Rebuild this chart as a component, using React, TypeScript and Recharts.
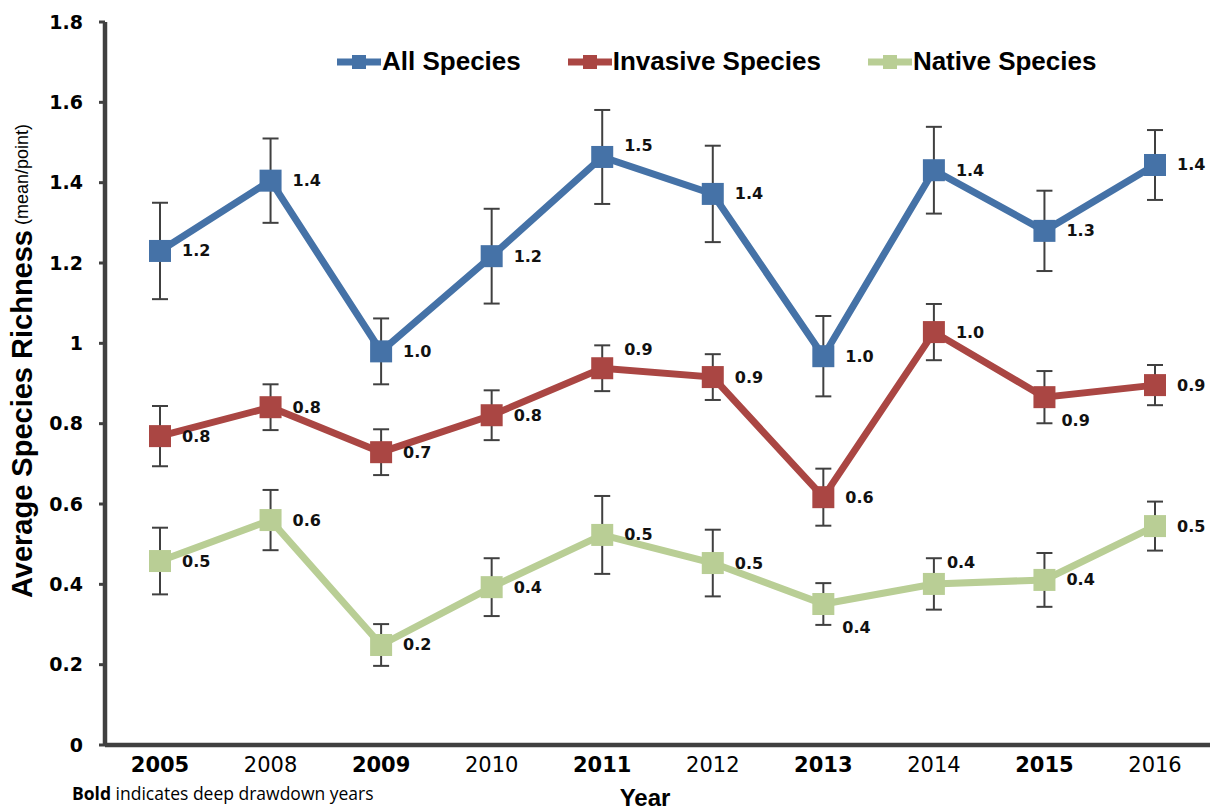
import React from 'react';
import { LineChart, Line, XAxis, YAxis, ErrorBar, LabelList, Legend } from 'recharts';

const years = ['2005', '2008', '2009', '2010', '2011', '2012', '2013', '2014', '2015', '2016'];
const boldYears = ['2005', '2009', '2011', '2013', '2015'];

const allValues = [1.23, 1.405, 0.98, 1.217, 1.464, 1.372, 0.968, 1.431, 1.28, 1.444];
const allErrors = [0.12, 0.105, 0.082, 0.118, 0.117, 0.12, 0.1, 0.108, 0.1, 0.087];
const allLabels = ['1.2', '1.4', '1.0', '1.2', '1.5', '1.4', '1.0', '1.4', '1.3', '1.4'];

const invasiveValues = [0.769, 0.841, 0.729, 0.821, 0.938, 0.916, 0.617, 1.028, 0.866, 0.896];
const invasiveErrors = [0.075, 0.057, 0.057, 0.062, 0.057, 0.057, 0.071, 0.07, 0.065, 0.05];
const invasiveLabels = ['0.8', '0.8', '0.7', '0.8', '0.9', '0.9', '0.6', '1.0', '0.9', '0.9'];

const nativeValues = [0.458, 0.56, 0.249, 0.393, 0.523, 0.453, 0.351, 0.401, 0.411, 0.545];
const nativeErrors = [0.083, 0.075, 0.052, 0.072, 0.097, 0.083, 0.052, 0.064, 0.067, 0.061];
const nativeLabels = ['0.5', '0.6', '0.2', '0.4', '0.5', '0.5', '0.4', '0.4', '0.4', '0.5'];

const yTicks = [0, 0.2, 0.4, 0.6, 0.8, 1, 1.2, 1.4, 1.6, 1.8];

const seriesNames = ['All Species', 'Invasive Species', 'Native Species'];

const BLUE = '#4572A7';
const RED = '#AA4643';
const GREEN = '#B9CE95';
const AXIS = '#404040';
const colors = [BLUE, RED, GREEN];

const data = years.map((y, i) => ({
  year: y,
  all: allValues[i],
  allErr: allErrors[i],
  allLabel: allLabels[i],
  inv: invasiveValues[i],
  invErr: invasiveErrors[i],
  invLabel: invasiveLabels[i],
  nat: nativeValues[i],
  natErr: nativeErrors[i],
  natLabel: nativeLabels[i],
}));

// label placement tweaks (style only): [dx, dy]
const labelShift: Record<string, Record<number, [number, number]>> = {
  all: { 4: [22, -11] },
  inv: { 4: [22, -19], 8: [17, 23] },
  nat: { 6: [19, 23], 7: [13, -21] },
};

const makeLabel = (key: string) => (props: any) => {
  const { x, y, value, index } = props;
  if (x == null || y == null) return null;
  const shift = labelShift[key][index] || [22, 0];
  return (
    <text
      key={`${key}-l-${index}`}
      x={x + shift[0]}
      y={y + shift[1]}
      textAnchor="start"
      dominantBaseline="central"
      fontFamily="DejaVu Sans, Verdana, sans-serif"
      fontWeight="bold"
      fontSize={16}
      fill="#111"
    >
      {value}
    </text>
  );
};

const makeDot = (color: string) => (props: any) => {
  const { cx, cy, index } = props;
  if (cx == null || cy == null) return <g key={`e-${index}`} />;
  return <rect key={`d-${color}-${index}`} x={cx - 11} y={cy - 11} width={22} height={22} fill={color} />;
};

const XTick = (props: any) => {
  const { x, y, payload } = props;
  const bold = boldYears.includes(String(payload.value));
  return (
    <text
      x={x}
      y={y}
      dy="0.71em"
      textAnchor="middle"
      fontFamily="DejaVu Sans, sans-serif"
      fontSize={21}
      fontWeight={bold ? 'bold' : 'normal'}
      fill="#000"
    >
      {payload.value}
    </text>
  );
};

const renderLegend = () => (
  <div
    style={{
      display: 'flex',
      alignItems: 'center',
      fontFamily: 'Liberation Sans, Arial, sans-serif',
      fontWeight: 'bold',
      fontSize: 26,
      color: '#000',
      whiteSpace: 'nowrap',
    }}
  >
    {seriesNames.map((name, i) => (
      <div key={name} style={{ display: 'flex', alignItems: 'center', marginRight: i < 2 ? 47 : 0 }}>
        <svg width={44} height={16} style={{ display: 'block' }}>
          <line x1={0} y1={8} x2={44} y2={8} stroke={colors[i]} strokeWidth={7} />
          <rect x={15} y={1} width={14} height={14} fill={colors[i]} />
        </svg>
        <span style={{ marginLeft: 1 }}>{name}</span>
      </div>
    ))}
  </div>
);

const YLabel = () => (
  <text transform="translate(22,361) rotate(-90)" textAnchor="middle" dominantBaseline="central" fill="#000">
    <tspan fontFamily="Liberation Sans, Arial, sans-serif" fontWeight="bold" fontSize={29}>
      Average Species Richness
    </tspan>
    <tspan fontFamily="Liberation Sans, Arial, sans-serif" fontSize={18}>
      {' (mean/point)'}
    </tspan>
  </text>
);

const XLabel = () => (
  <g>
    <text
      x={645}
      y={797}
      textAnchor="middle"
      dominantBaseline="central"
      fontFamily="Liberation Sans, Arial, sans-serif"
      fontWeight="bold"
      fontSize={24}
      fill="#000"
    >
      Year
    </text>
    <text x={72} y={793} dominantBaseline="central" fontFamily="Open Sans, sans-serif" fontSize={17.5} fill="#000">
      <tspan fontWeight="bold">Bold</tspan>
      <tspan> indicates deep drawdown years</tspan>
    </text>
  </g>
);

export default function App() {
  return (
    <div style={{ position: 'absolute', left: 0, top: 0, width: 1212, height: 809, background: '#fff' }}>
      <LineChart width={1212} height={809} data={data} margin={{ top: 22, right: 2, bottom: 0, left: 0 }}>
        <XAxis
          dataKey="year"
          height={64}
          interval={0}
          padding={{ left: 55, right: 55 }}
          tickLine={false}
          tickSize={6}
          tickMargin={6}
          axisLine={{ stroke: AXIS, strokeWidth: 4.5 }}
          tick={<XTick />}
          label={{ content: () => <XLabel /> }}
        />
        <YAxis
          width={105}
          domain={[0, 1.8]}
          ticks={yTicks}
          interval={0}
          tickSize={6}
          tickMargin={16}
          tickLine={{ stroke: AXIS, strokeWidth: 3 }}
          axisLine={{ stroke: AXIS, strokeWidth: 4.5 }}
          tickFormatter={(v: number) => String(v)}
          tick={{ fontFamily: 'DejaVu Sans, sans-serif', fontWeight: 'bold', fontSize: 19, fill: '#000' }}
          label={{ content: () => <YLabel /> }}
        />
        <Legend
          layout="horizontal"
          verticalAlign="middle"
          align="center"
          content={renderLegend}
          wrapperStyle={{ top: 46, left: 337, width: 'auto' }}
        />
        <Line
          dataKey="all"
          name="All Species"
          type="linear"
          stroke={BLUE}
          strokeWidth={7}
          dot={makeDot(BLUE)}
          activeDot={false}
          isAnimationActive={false}
        >
          <ErrorBar dataKey="allErr" width={8} strokeWidth={2} stroke={AXIS} direction="y" />
          <LabelList dataKey="allLabel" content={makeLabel('all')} />
        </Line>
        <Line
          dataKey="inv"
          name="Invasive Species"
          type="linear"
          stroke={RED}
          strokeWidth={7}
          dot={makeDot(RED)}
          activeDot={false}
          isAnimationActive={false}
        >
          <ErrorBar dataKey="invErr" width={8} strokeWidth={2} stroke={AXIS} direction="y" />
          <LabelList dataKey="invLabel" content={makeLabel('inv')} />
        </Line>
        <Line
          dataKey="nat"
          name="Native Species"
          type="linear"
          stroke={GREEN}
          strokeWidth={7}
          dot={makeDot(GREEN)}
          activeDot={false}
          isAnimationActive={false}
        >
          <ErrorBar dataKey="natErr" width={8} strokeWidth={2} stroke={AXIS} direction="y" />
          <LabelList dataKey="natLabel" content={makeLabel('nat')} />
        </Line>
      </LineChart>
    </div>
  );
}
